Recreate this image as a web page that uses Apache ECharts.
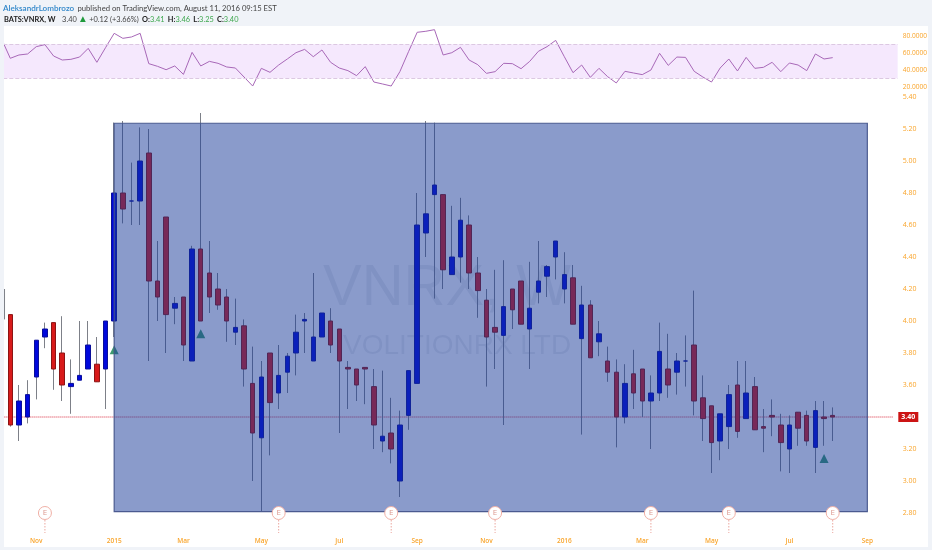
<!DOCTYPE html>
<html><head><meta charset="utf-8">
<style>html,body{margin:0;padding:0;background:#f0f3f8}#c{width:932px;height:550px}</style>
<script src="https://cdn.jsdelivr.net/npm/echarts@6/dist/echarts.min.js"></script>
</head><body><div id="c"></div>
<script>
const monthLabels = {3:'Nov',12:'2015',20:'Mar',29:'May',38:'Jul',47:'Sep',55:'Nov',64:'2016',73:'Mar',81:'May',90:'Jul',99:'Sep'};
const opens = [4.04,3.35,3.40,3.65,3.90,3.99,3.80,3.59,3.63,3.70,3.73,3.70,4.00,4.80,4.75,4.75,5.05,4.25,4.65,4.08,4.15,3.75,4.45,4.30,4.20,4.15,3.93,3.97,3.61,3.27,3.80,3.55,3.68,3.80,4.00,3.75,3.90,4.00,3.95,3.71,3.70,3.71,3.59,3.25,3.30,3.00,3.41,3.61,4.55,4.79,4.79,4.29,4.40,4.60,4.30,4.13,3.96,3.91,4.20,4.25,3.95,4.18,4.28,4.40,4.20,4.27,3.89,4.10,3.87,3.75,3.68,3.40,3.67,3.70,3.50,3.55,3.70,3.68,3.75,3.85,3.52,3.47,3.25,3.34,3.60,3.39,3.59,3.34,3.41,3.35,3.20,3.43,3.41,3.21,3.40,3.41];
const closes = [3.35,3.50,3.54,3.88,3.95,3.70,3.60,3.61,3.66,3.85,3.62,4.00,4.80,4.70,4.75,5.00,4.25,4.15,4.04,4.11,3.85,4.45,4.00,4.15,4.10,4.00,3.96,3.70,3.30,3.65,3.49,3.66,3.78,3.93,4.01,3.90,4.05,3.85,3.75,3.70,3.60,3.70,3.35,3.28,3.20,3.35,3.69,4.60,4.67,4.85,4.32,4.40,4.63,4.30,4.19,3.90,3.93,4.09,4.07,3.98,4.08,4.25,4.34,4.50,4.29,3.98,4.10,3.77,3.92,3.68,3.40,3.61,3.55,3.50,3.55,3.81,3.60,3.75,3.75,3.50,3.39,3.24,3.42,3.54,3.31,3.55,3.32,3.33,3.40,3.24,3.35,3.33,3.25,3.44,3.39,3.40];
const lows = [3.34,3.25,3.36,3.51,3.83,3.57,3.50,3.42,3.63,3.70,3.62,3.45,3.90,4.61,4.60,4.60,3.75,4.00,3.80,3.98,3.75,3.75,4.00,4.05,4.07,3.87,3.85,3.59,3.00,2.81,3.16,3.45,3.55,3.66,3.80,3.75,3.90,3.80,3.30,3.45,3.50,3.48,3.20,3.18,3.11,2.90,3.32,3.61,4.40,4.14,4.20,4.29,4.24,4.20,4.02,3.59,3.70,3.35,3.95,3.98,3.70,4.11,4.15,4.26,4.11,3.98,3.29,3.77,3.78,3.62,3.21,3.36,3.45,3.40,3.20,3.50,3.52,3.54,3.59,3.41,3.25,3.05,3.13,3.20,3.27,3.39,3.32,3.18,3.28,3.06,3.05,3.22,3.22,3.05,3.22,3.25];
const highs = [4.04,3.60,3.63,3.88,3.99,3.99,4.03,3.76,4.00,4.00,3.90,4.00,5.24,5.25,4.99,5.21,5.20,4.50,4.65,4.15,4.15,4.47,5.30,4.50,4.30,4.20,4.14,4.01,3.84,3.75,3.80,3.85,3.80,4.04,4.05,4.30,4.05,4.08,3.95,3.75,3.70,3.71,3.70,3.69,3.52,3.44,3.69,4.80,5.25,5.24,4.79,4.72,4.77,4.66,4.40,4.20,4.32,4.38,4.20,4.25,4.37,4.50,4.35,4.50,4.43,4.35,4.22,4.13,4.00,3.84,3.76,3.73,3.82,3.70,3.66,3.99,3.92,3.80,3.91,4.19,3.66,3.47,3.42,3.60,3.75,3.75,3.65,3.45,3.51,3.42,3.41,3.43,3.44,3.50,3.50,3.46];
const rsiLead = 76;
const rsiValues = [53.4,57.3,58.5,67.1,69.5,56.1,51.4,52.2,54.9,65.1,48.7,65.9,82.8,76.9,78.5,82.8,47.1,44.0,40.0,44.4,34.5,60.4,44.4,49.8,47.5,43.2,42.0,31.4,20.8,41.6,36.9,45.5,52.6,60.0,63.9,55.3,63.2,48.7,42.0,38.9,33.0,43.6,25.5,23.2,20.8,37.7,61.2,84.0,85.2,87.1,57.3,60.0,66.3,51.4,45.9,35.7,37.7,47.5,47.1,41.2,49.8,61.6,67.1,74.5,55.3,36.5,45.5,31.0,41.6,31.8,24.4,38.1,36.1,34.2,39.6,59.3,45.1,54.9,54.5,38.1,31.4,25.5,42.0,52.6,38.5,54.5,41.6,42.8,48.7,37.7,47.9,45.5,38.9,58.5,52.6,54.2];
const earningsIdx = [4,31,44,56,74,83,95];
const signalPoints = [[12,3.82],[22,3.92],[94,3.14]];
const highlightBox = {from:12,to:99,top:5.236,bottom:2.808};
const lastPrice = 3.40;
const rsiBand = [70,30];
const leadWick = [4.20,4.01];

const SLOTS = 104;
const categories = Array.from({length:SLOTS},(_,i)=>monthLabels[i-1]||'');
const ORANGE='#f9a52c', FONT='"Open Sans", sans-serif';
const EMPTY=['-','-','-','-'];
const candleFull = [EMPTY].concat(opens.map((o,i)=>[o,closes[i],lows[i],highs[i]]));
const bodies = [EMPTY].concat(opens.map((o,i)=>[o,closes[i],Math.min(o,closes[i]),Math.max(o,closes[i])]));

const chart = echarts.init(document.getElementById('c'),null,{renderer:'canvas'});
chart.setOption({
  animation:false,
  backgroundColor:'#f0f3f8',
  graphic:[
    {type:'rect',z:-10,shape:{x:4,y:26,width:924,height:521},style:{fill:'#fff'}},
    {type:'text',z:1,x:323,y:260,style:{text:'VNRX, W',fontFamily:'"Liberation Sans"',fontSize:58,fill:'rgba(70,80,110,0.11)'}},
    {type:'text',z:1,x:343,y:332,style:{text:'VOLITIONRX LTD',fontFamily:'"Liberation Sans"',fontSize:28,fill:'rgba(70,80,110,0.11)'}},
    {type:'text',z:50,x:3,y:2.5,style:{
      text:'{a|AleksandrLombrozo} {b|published on TradingView.com, August 11, 2016 09:15 EST}',
      rich:{a:{fill:'#2f86c9',fontFamily:'Lato',fontSize:8.1,fontWeight:600},b:{fill:'#444',fontFamily:'Lato',fontSize:7.7}}}},
    {type:'text',z:50,x:4,y:13.5,style:{
      text:'{k|BATS:VNRX, W}  {v|3.40} {u|▲} {v|+0.12 (+3.66%)} {k|O:}{g|3.41} {k|H:}{g|3.46} {k|L:}{g|3.25} {k|C:}{g|3.40}',
      rich:{k:{fill:'#222',fontFamily:'Lato',fontSize:7.4,fontWeight:'bold'},v:{fill:'#444',fontFamily:'Lato',fontSize:7.4},u:{fill:'#1f9a3c',fontFamily:'DejaVu Sans',fontSize:7.5},g:{fill:'#3fa84f',fontFamily:'Lato',fontSize:7.4}}}},
    {type:'rect',z:60,shape:{x:0,y:26,width:4,height:521},style:{fill:'#f0f3f8'}}
  ],
  grid:[
    {left:-2.69,width:8.657*SLOTS,top:97,height:416,outerBoundsMode:'none',containLabel:false},
    {left:-2.69,width:8.657*SLOTS,top:18.7,height:85,outerBoundsMode:'none',containLabel:false}
  ],
  xAxis:[
    {type:'category',gridIndex:0,data:categories,boundaryGap:true,axisLine:{show:false},axisTick:{show:false},splitLine:{show:false},
     axisLabel:{interval:0,color:ORANGE,fontSize:6.5,fontWeight:600,fontFamily:FONT,margin:25,hideOverlap:false}},
    {type:'category',gridIndex:1,data:categories,boundaryGap:true,show:false}
  ],
  yAxis:[
    {type:'value',gridIndex:0,position:'right',min:2.8,max:5.4,interval:0.2,axisLine:{show:false},axisTick:{show:false},splitLine:{show:false},
     axisLabel:{color:ORANGE,fontSize:7,fontFamily:FONT,margin:5,formatter:v=>v.toFixed(2)}},
    {type:'value',gridIndex:1,position:'right',min:0,max:100,interval:20,axisLine:{show:false},axisTick:{show:false},splitLine:{show:false},
     axisLabel:{color:ORANGE,fontSize:6.6,fontFamily:FONT,margin:5,formatter:v=>(v===0||v===100)?'':v.toFixed(4)}}
  ],
  series:[
    {name:'RSI',type:'line',xAxisIndex:1,yAxisIndex:1,data:[rsiLead].concat(rsiValues),symbol:'none',z:2,
     lineStyle:{color:'#a868b8',width:1},
     markArea:{silent:true,itemStyle:{color:'#f5e8fd'},data:[[{yAxis:rsiBand[0]},{yAxis:rsiBand[1]}]]},
     markLine:{silent:true,symbol:'none',label:{show:false},lineStyle:{color:'#dcc8e2',type:'dashed',width:1},data:[{yAxis:rsiBand[0]},{yAxis:rsiBand[1]}]}},
    {name:'Last price',type:'line',xAxisIndex:0,yAxisIndex:0,z:3,symbol:'none',data:categories.map(()=>lastPrice),
     lineStyle:{color:'#d9283c',type:[1,1],width:1},
     endLabel:{show:true,distance:5,formatter:()=>lastPrice.toFixed(2),color:'#fff',fontSize:7,fontWeight:'bold',fontFamily:FONT,backgroundColor:'#cc1414',padding:[2,3,1,3]}},
    {name:'Lead wick',type:'custom',xAxisIndex:0,yAxisIndex:0,z:3,silent:true,data:[[0,leadWick[0],leadWick[1]]],encode:{x:0,y:[1,2]},
     renderItem:(p,api)=>{
       const a=api.coord([api.value(0),api.value(1)]), b=api.coord([api.value(0),api.value(2)]), dx=api.size([1,0])[0]/3;
       return {type:'line',shape:{x1:a[0]+dx,y1:a[1],x2:a[0]+dx,y2:b[1]},style:{stroke:'#7d8088',lineWidth:1}};
     }},
    {name:'Wicks',type:'candlestick',xAxisIndex:0,yAxisIndex:0,z:3,barWidth:1,data:candleFull,
     itemStyle:{color:'#7d8088',color0:'#7d8088',borderColor:'#7d8088',borderColor0:'#7d8088',borderColorDoji:'#7d8088',borderWidth:1}},
    {name:'VNRX',type:'candlestick',xAxisIndex:0,yAxisIndex:0,z:4,barWidth:5,data:bodies,
     itemStyle:{color:'#0008dc',color0:'#d81a1a',borderColor:'#0a0f9a',borderColor0:'#8c1414',borderColorDoji:'#0a0f9a',borderWidth:1}},
    {name:'Signals',type:'scatter',xAxisIndex:0,yAxisIndex:0,z:4,symbol:'triangle',symbolSize:[9,9],
     data:signalPoints.map(p=>[p[0]+1,p[1]]),itemStyle:{color:'#3d9a70',opacity:1}},
    {name:'Highlight',type:'custom',xAxisIndex:0,yAxisIndex:0,z:6,silent:true,
     data:[[highlightBox.from+1,highlightBox.to+1,highlightBox.top,highlightBox.bottom]],
     encode:{x:[0,1],y:[2,3]},
     renderItem:(p,api)=>{
       const a=api.coord([api.value(0),api.value(2)]), b=api.coord([api.value(1),api.value(3)]);
       return {type:'rect',shape:{x:a[0],y:a[1],width:b[0]-a[0],height:b[1]-a[1]},
         style:{fill:'rgba(21,55,151,0.5)',stroke:'rgba(70,85,140,0.95)',lineWidth:1.2}};
     }},
    {name:'Earnings',type:'custom',xAxisIndex:0,yAxisIndex:0,z:8,silent:true,clip:false,
     data:earningsIdx.map(i=>[i+1,2.8]),
     encode:{x:0,y:1},
     renderItem:(p,api)=>{
       const c=api.coord([api.value(0),api.value(1)]);
       return {type:'group',children:[
         {type:'line',shape:{x1:c[0],y1:c[1]+7,x2:c[0],y2:c[1]+20},style:{stroke:'#eba79f',lineWidth:1,lineDash:[1.5,1.5]}},
         {type:'circle',shape:{cx:c[0],cy:c[1],r:6.5},style:{fill:'#fff',stroke:'#f0b0a6',lineWidth:1}},
         {type:'text',style:{x:c[0],y:c[1],text:'E',fill:'#dd9a90',fontSize:8,fontFamily:'"Open Sans"',align:'center',verticalAlign:'middle'}}
       ]};
     }}
  ]
});
</script></body></html>
